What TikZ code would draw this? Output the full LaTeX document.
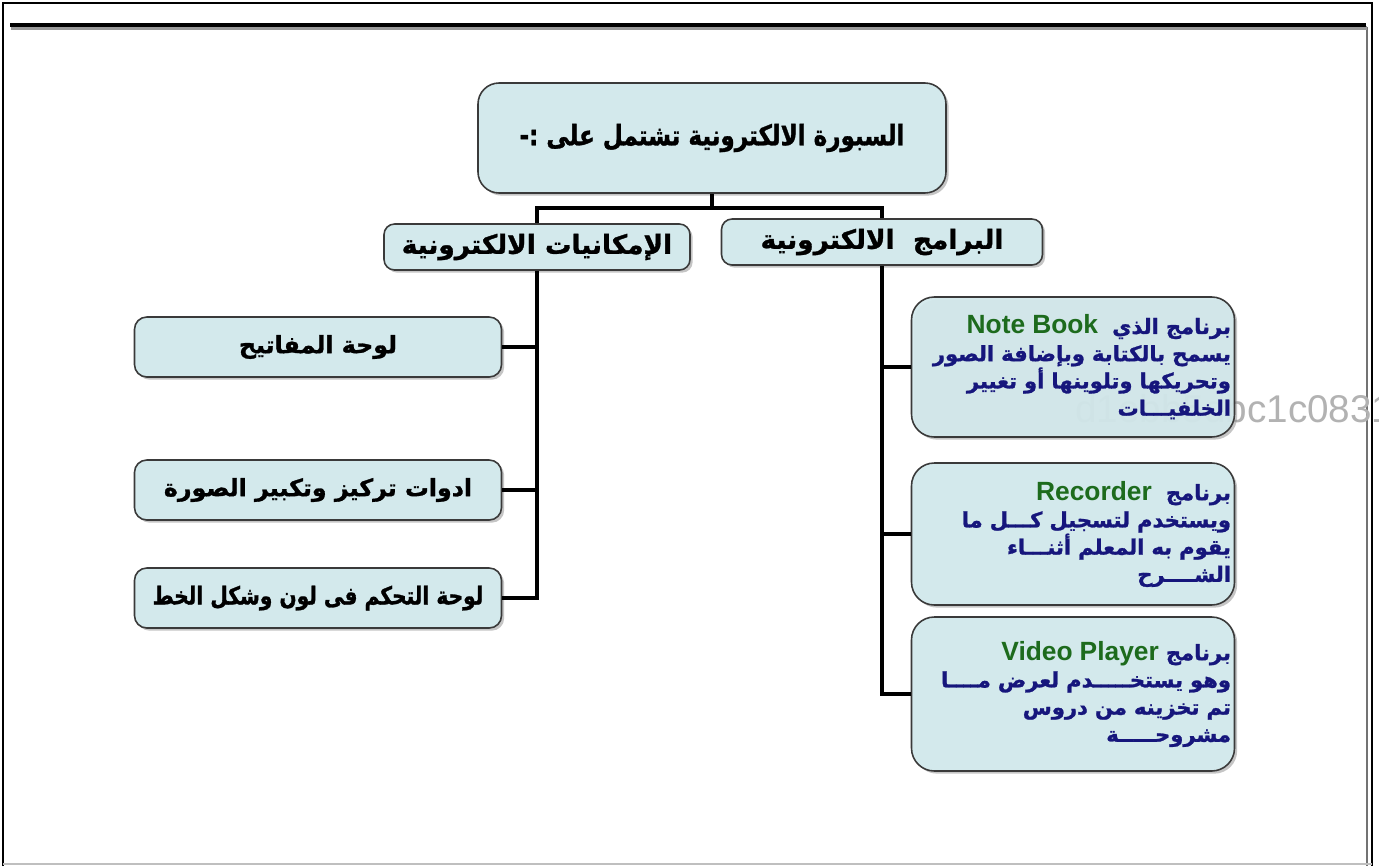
\documentclass[tikz,border=0pt]{standalone}
\usepackage{fontspec}
\newfontfamily\arabicfont[Script=Arabic, BoldFeatures={FakeBold=1.2}]{DejaVu Sans}
\newfontfamily\arabicnarrow[Script=Arabic, FakeStretch=0.82, FakeBold=1.2]{DejaVu Sans Bold}
\newfontfamily\latinfont{Liberation Sans}
\TeXXeTstate=1
\usetikzlibrary{positioning, shadows}
\definecolor{boxfill}{HTML}{D3E9EC}
\definecolor{boxdraw}{HTML}{3A3A3A}
\definecolor{navytext}{HTML}{16167C}
\definecolor{greentext}{HTML}{1D6B1D}
\newdimen\pix \pix=0.02cm
\newcommand{\arline}[1]{\beginR #1\endR}
\newcommand{\enword}[1]{\beginL\textcolor{greentext}{\latinfont\bfseries\fontsize{15}{15.5}\selectfont #1}\endL}

\begin{document}
\begin{tikzpicture}
    [
        x=0.02cm, y=-0.02cm,
        base_box/.style={draw=boxdraw, fill=boxfill, line width=0.9pt, drop shadow={shadow xshift=1.5pt, shadow yshift=-1.5pt, fill=black!45}},
        head_box/.style={base_box, rounded corners=12pt, font=\arabicnarrow\fontsize{16}{19}\selectfont},
        mid_box/.style={base_box, rounded corners=6pt, font=\arabicfont\bfseries\fontsize{15}{18}\selectfont},
        item_box/.style={base_box, rounded corners=7pt, font=\arabicfont\bfseries\fontsize{13.5}{17}\selectfont},
        prog_box/.style={base_box, rounded corners=13pt, align=right, text width=316\pix, inner sep=0pt, text=navytext, font=\arabicfont\bfseries\fontsize{12}{15.5}\selectfont},
        link/.style={line width=2pt, color=black},
    ]
        \useasboundingbox (0,0) rectangle (1379,866);
        \fill[white] (0,0) rectangle (1379,866);
        % frame of the page
        \draw[black, line width=1.1pt] (3,866) -- (3,3) -- (1372,3) -- (1372,866);
        \draw[black!55, line width=1pt] (1367,27) -- (1367,866);
        \draw[black!25, line width=1.2pt] (3,864) -- (1372,864);
        \draw[black!40, line width=2.4pt] (11,28) -- (1367,28);
        \draw[black, line width=2.4pt] (10,25) -- (1366,25);

        \node[head_box, minimum width=468\pix, minimum height=110\pix] (board) at (712,138) {\arline{السبورة الالكترونية تشتمل على :-}};
        \node[mid_box, minimum width=306\pix, minimum height=46\pix] (features) at (537,247) {\arline{الإمكانيات الالكترونية}};
        \node[mid_box, minimum width=321\pix, minimum height=46\pix] (software) at (882,242) {\arline{البرامج\ \ الالكترونية}};

        \node[item_box, minimum width=367\pix, minimum height=60\pix] (keys) at (318,347) {\arline{لوحة المفاتيح}};
        \node[item_box, minimum width=367\pix, minimum height=60\pix] (focus) at (318,490) {\arline{ادوات تركيز وتكبير الصورة}};
        \node[item_box, minimum width=367\pix, minimum height=60\pix, font=\arabicnarrow\fontsize{14}{17}\selectfont] (control) at (318,598) {\arline{لوحة التحكم فى لون وشكل الخط}};

        % faint stamp, seen through the first program box
        \node[anchor=west, text=black!30, font=\latinfont\fontsize{22}{24}\selectfont, inner sep=0pt] (stamp) at (1075,409) {d1ebb5dbc1c0831};

        \node[prog_box, fill opacity=0.93, text opacity=1, minimum width=323\pix, minimum height=140\pix] (notebook) at (1073,367) {\arline{برنامج الذي\ \ \enword{Note Book}}\\ \arline{يسمح بالكتابة وبإضافة الصور}\\ \arline{وتحريكها وتلوينها أو تغيير}\\ \arline{الخلفيـــات}};
        \node[prog_box, minimum width=323\pix, minimum height=142\pix] (recorder) at (1073,534) {\arline{برنامج\ \ \enword{Recorder}}\\ \arline{ويستخدم لتسجيل كـــل ما}\\ \arline{يقوم به المعلم أثنـــاء}\\ \arline{الشــــرح}};
        \node[prog_box, minimum width=323\pix, minimum height=154\pix] (video) at (1073,694) {\arline{برنامج \enword{Video Player}}\\ \arline{وهو يستخـــــدم لعرض مــــا}\\ \arline{تم تخزينه من دروس}\\ \arline{مشروحـــــة}};

        \draw[link] (board.south) -- ++(0,14) -| (features.north);
        \draw[link] (board.south) -- ++(0,14) -| (software.north);
        \draw[link] (features.south) |- (keys.east);
        \draw[link] (features.south) |- (focus.east);
        \draw[link] (features.south) |- (control.east);
        \draw[link] (software.south) |- (notebook.west);
        \draw[link] (software.south) |- (recorder.west);
        \draw[link] (software.south) |- (video.west);
    \end{tikzpicture}
\end{document}
